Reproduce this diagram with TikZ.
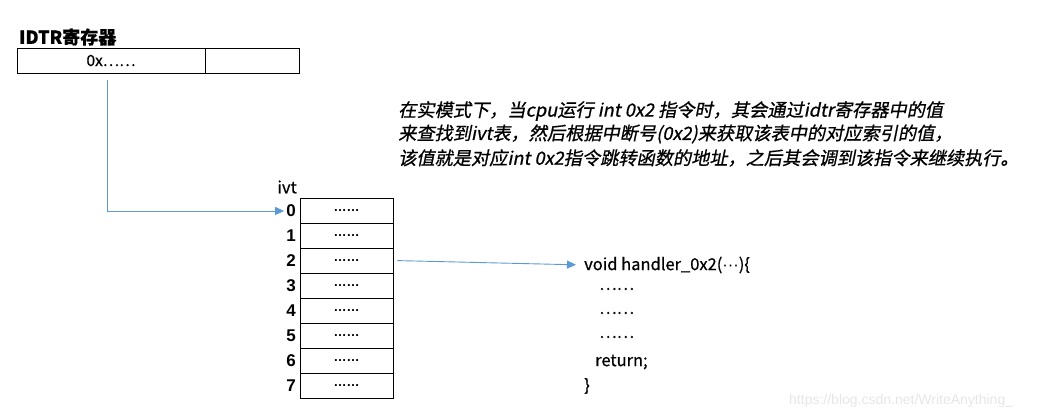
\documentclass[tikz,border=0pt]{standalone}
\usepackage{fontspec}
\setmainfont{Noto Sans CJK SC}[FakeBold=0.6]
\newfontfamily\cjkit{Noto Sans CJK SC}[FakeSlant=0.2,FakeBold=0.8]
\newfontfamily\arial{Liberation Sans}
\usetikzlibrary{arrows.meta}
\definecolor{arrowblue}{HTML}{5B9BD5}
\definecolor{wmgray}{HTML}{E6E6E6}
\begin{document}
\begin{tikzpicture}[x=1pt,y=-1pt,
  cell/.style={draw,line width=0.9pt,minimum height=25pt,inner sep=0pt},
  rowcell/.style={cell,minimum width=93pt,font=\arial\bfseries\fontsize{13}{13}\selectfont},
  idx/.style={anchor=east,inner sep=1pt,font=\arial\bfseries\fontsize{17}{17}\selectfont},
  lbl/.style={inner sep=0pt,font=\fontsize{15}{15}\selectfont},
  code/.style={anchor=west,inner sep=0pt,font=\fontsize{16.5}{16.5}\selectfont},
  note/.style={anchor=west,inner sep=0pt,font=\cjkit\fontsize{18.2}{18.2}\selectfont},
  conn/.style={draw=arrowblue,line width=0.9pt,-{Triangle[length=9pt,width=8pt]}}
]
\useasboundingbox (0,0) rectangle (1051,419);
% register
\node[lbl,anchor=west,font=\bfseries\fontsize{18}{18}\selectfont] (idtr) at (19,37) {IDTR寄存器};
\node[cell,minimum width=188pt,font=\fontsize{15.5}{15.5}\selectfont] (reg1) at (111,60.5) {0x……};
\node[cell,minimum width=94pt] (reg2) at (252,60.5) {};
% table
\node[lbl,anchor=east,font=\fontsize{16.5}{16.5}\selectfont] (ivt) at (297,187) {ivt};
\foreach \i in {0,...,7}{
  \node[rowcell] (r\i) at (346.5,{210.5+25*\i}) {……};
  \node[idx] (l\i) at (297,{211+25*\i}) {\i};
}
% handler
\node[code] (h1) at (584,265) {void handler\_0x2({\arial ···})\{};
\node[code] (h2) at (599,289) {……};
\node[code] (h3) at (599,313) {……};
\node[code] (h4) at (599,337) {……};
\node[code] (h5) at (595,362) {return;};
\node[code] (h6) at (584,386) {\}};
% note
\node[note] (n1) at (398,111) {在实模式下，当cpu运行 int 0x2 指令时，其会通过idtr寄存器中的值};
\node[note] (n2) at (398,134) {来查找到ivt表，然后根据中断号(0x2)来获取该表中的对应索引的值，};
\node[note] (n3) at (398,158) {该值就是对应int 0x2指令跳转函数的地址，之后其会调到该指令来继续执行。};
% connectors
\coordinate (start) at (107,80);
\draw[conn,shorten >=1pt] (start) |- (l0.west);
\draw[conn,shorten <=4pt,shorten >=8pt] (r2.east) -- (h1.west);
% watermark
\node[anchor=west,inner sep=0pt,text=wmgray,font=\arial\fontsize{14}{14}\selectfont] (wm) at (789,401) {https://blog.csdn.net/WriteAnything\_};
\end{tikzpicture}
\end{document}
